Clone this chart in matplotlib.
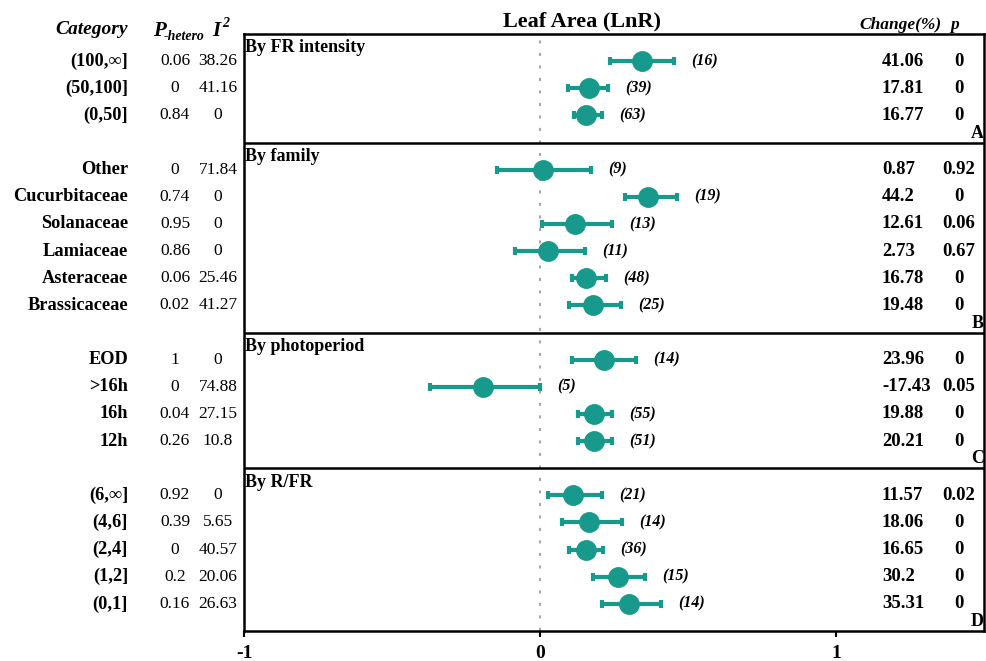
import matplotlib
matplotlib.use('Agg')
import numpy as np
import matplotlib.pyplot as plt
import matplotlib.transforms as mtrans

plt.rcParams['font.family'] = ['Liberation Serif', 'DejaVu Serif']

# groups
groups = ['By FR intensity', 'By family', 'By photoperiod', 'By R/FR']
tags = ['A', 'B', 'C', 'D']
sizes = [3, 6, 4, 5]

# rows (top to bottom)
cats = ['(100,\u221e]', '(50,100]', '(0,50]',
        'Other', 'Cucurbitaceae', 'Solanaceae', 'Lamiaceae', 'Asteraceae', 'Brassicaceae',
        'EOD', '>16h', '16h', '12h',
        '(6,\u221e]', '(4,6]', '(2,4]', '(1,2]', '(0,1]']
p_het = ['0.06', '0', '0.84',
         '0', '0.74', '0.95', '0.86', '0.06', '0.02',
         '1', '0', '0.04', '0.26',
         '0.92', '0.39', '0', '0.2', '0.16']
i2 = ['38.26', '41.16', '0',
      '71.84', '0', '0', '0', '25.46', '41.27',
      '0', '74.88', '27.15', '10.8',
      '0', '5.65', '40.57', '20.06', '26.63']
mean = [0.344, 0.164, 0.155,
        0.009, 0.366, 0.119, 0.027, 0.155, 0.178,
        0.215, -0.192, 0.181, 0.184,
        0.110, 0.166, 0.154, 0.264, 0.302]
low = [0.236, 0.095, 0.115,
       -0.144, 0.287, 0.006, -0.084, 0.108, 0.097,
       0.107, -0.373, 0.127, 0.127,
       0.027, 0.076, 0.099, 0.178, 0.210]
high = [0.452, 0.231, 0.209,
        0.173, 0.464, 0.243, 0.153, 0.222, 0.273,
        0.323, -0.001, 0.244, 0.244,
        0.208, 0.277, 0.213, 0.356, 0.409]
n_obs = [16, 39, 63,
         9, 19, 13, 11, 48, 25,
         14, 5, 55, 51,
         21, 14, 36, 15, 14]
change = ['41.06', '17.81', '16.77',
          '0.87', '44.2', '12.61', '2.73', '16.78', '19.48',
          '23.96', '-17.43', '19.88', '20.21',
          '11.57', '18.06', '16.65', '30.2', '35.31']
pval = ['0', '0', '0',
        '0.92', '0', '0.06', '0.67', '0', '0',
        '0', '0.05', '0', '0',
        '0.02', '0', '0', '0', '0']

teal = '#179A8B'

fig = plt.figure(figsize=(9.86, 6.61), dpi=100)
ax = fig.add_axes([244/986, 1-631/661, 740/986, 597/661])

# row layout
ys = []
bounds = [0]
pos = 0
for s in sizes:
    ys += [pos + k + 1 for k in range(s)]
    pos += s + 1
    bounds.append(pos)
ys = np.array(ys)
mean = np.array(mean); low = np.array(low); high = np.array(high)

ax.axvline(0, color='#aaaaaa', lw=1.5, ls=(0, (1.5, 4.5)), zorder=1)
ax.errorbar(mean, ys, xerr=[mean-low, high-mean], fmt='o', ms=14, color=teal,
            elinewidth=3, capsize=3, capthick=3, zorder=3)

for b in bounds[1:-1]:
    ax.axhline(b, color='black', lw=1.8)

for i, (g, t) in enumerate(zip(groups, tags)):
    ax.text(-0.995, bounds[i] + 0.2, g, fontsize=13, fontweight='bold', ha='left', va='top')
    ax.text(1.5, bounds[i+1] - 0.03, t, fontsize=13, fontweight='bold', ha='right', va='bottom')

for y, h, n, c, p in zip(ys, high, n_obs, change, pval):
    ax.text(h + 0.058, y, '(%d)' % n, fontsize=11.5, fontweight='bold', style='italic',
            ha='left', va='center')
    ax.text(1.155, y, c, fontsize=13.5, fontweight='bold', ha='left', va='center')
    ax.text(1.415, y, p, fontsize=13.5, fontweight='bold', ha='center', va='center')

tr = mtrans.blended_transform_factory(fig.transFigure, ax.transData)
for y, c, ph, ii in zip(ys, cats, p_het, i2):
    ax.text(128/986, y, c, transform=tr, fontsize=13.2, fontweight='bold', ha='right', va='center')
    ax.text(175/986, y, ph, transform=tr, fontsize=12.5, ha='center', va='center')
    ax.text(218/986, y, ii, transform=tr, fontsize=12.5, ha='center', va='center')

# headers
fig.text(128/986, 1-30/661, 'Category', fontsize=14, fontweight='bold', style='italic',
         ha='right', va='center')
fig.text(153/986, 1-36/661, 'P', fontsize=15, fontweight='bold', style='italic',
         ha='left', va='baseline')
fig.text(164/986, 1-40/661, '-hetero', fontsize=10, fontweight='bold', style='italic',
         ha='left', va='baseline')
fig.text(212/986, 1-36/661, 'I', fontsize=15, fontweight='bold', style='italic',
         ha='left', va='baseline')
fig.text(222/986, 1-27/661, '2', fontsize=10, fontweight='bold', style='italic',
         ha='left', va='baseline')
fig.text(582/986, 1-21/661, 'Leaf Area (LnR)', fontsize=16, fontweight='bold', ha='center', va='center')
fig.text(859/986, 1-25/661, 'Change(%)', fontsize=12.5, fontweight='bold', style='italic',
         ha='left', va='center')
fig.text(955/986, 1-25/661, 'p', fontsize=12.5, fontweight='bold', style='italic',
         ha='center', va='center')

ax.set_xlim(-1, 1.5)
ax.set_ylim(bounds[-1], 0)
ax.set_yticks([])
ax.set_xticks([-1, 0, 1])
ax.set_xticklabels(['-1', '0', '1'], fontsize=14, fontweight='bold')
ax.tick_params(axis='x', length=4, width=1.5, pad=6)
for sp in ax.spines.values():
    sp.set_linewidth(1.8)

plt.savefig('out.png', dpi=100)
